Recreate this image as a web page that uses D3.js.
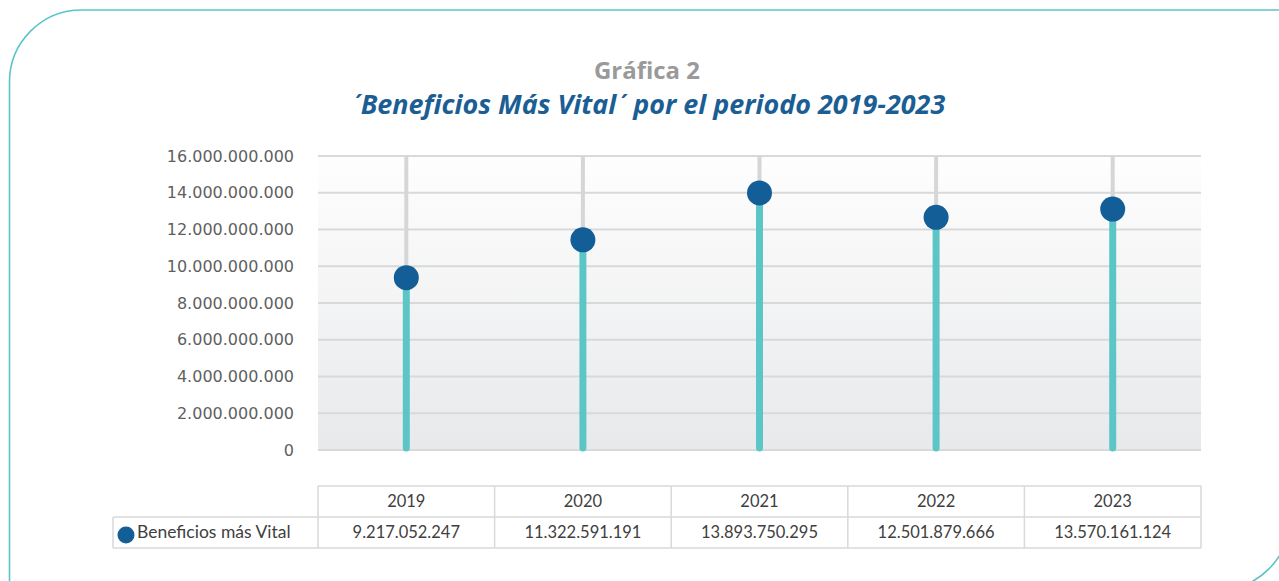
<!DOCTYPE html>
<html><head><meta charset="utf-8">
<script src="https://cdn.jsdelivr.net/npm/d3@7"></script>
<style>
html,body{margin:0;padding:0;background:#fff;}
svg{display:block;}
</style></head>
<body>
<svg id="chart" width="1279" height="581"></svg>
<script>
const categories = ["2019", "2020", "2021", "2022", "2023"];
// marker values as plotted in the picture
const values = [9.38e9, 11.44e9, 13.99e9, 12.66e9, 13.11e9];
// values printed in the data table
const tableLabels = ["9.217.052.247", "11.322.591.191", "13.893.750.295", "12.501.879.666", "13.570.161.124"];
const yTicks = [0, 2e9, 4e9, 6e9, 8e9, 10e9, 12e9, 14e9, 16e9];
const seriesName = "Beneficios más Vital";
const titleLine1 = "Gráfica 2";
const titleLine2Parts = ["´", "Beneficios Más Vital", "´", " por el periodo 2019-2023"];

const svg = d3.select("#chart");
const plot = {left: 318, right: 1201, top: 156, bottom: 450};

// outer frame: rounded top-left and bottom-right corners
svg.append("path")
  .attr("d", "M9.5,600 L9.5,82 A72,72 0 0 1 81.5,10 L1290,10 L1290,518 A72,72 0 0 1 1218,590 L9.5,590")
  .attr("fill", "none").attr("stroke", "#5cc6c7").attr("stroke-width", 1.6);

// titles, sized to the reference widths
function fitText(sel, targetWidth) {
  const fs = +sel.attr("font-size");
  const w = sel.node().getComputedTextLength();
  if (w > 0) sel.attr("font-size", fs * targetWidth / w);
}
const t1 = svg.append("text").attr("x", 647).attr("y", 79).attr("text-anchor", "middle")
  .attr("font-family", "Open Sans, sans-serif").attr("font-weight", 700).attr("font-size", 24)
  .attr("fill", "#9a9a9a").text(titleLine1);
fitText(t1, 106);
const t2 = svg.append("text").attr("x", 648).attr("y", 114).attr("text-anchor", "middle")
  .attr("font-family", "Open Sans, sans-serif").attr("font-weight", 700).attr("font-style", "italic").attr("font-size", 24)
  .attr("fill", "#1b5e94");
t2.selectAll("tspan").data(titleLine2Parts).join("tspan")
  .attr("font-family", d => d === "´" ? "Lato, sans-serif" : null)
  .text(d => d);
fitText(t2, 595);

const x = d3.scaleBand().domain(categories).range([plot.left, plot.right]);
const y = d3.scaleLinear().domain([0, 16e9]).range([plot.bottom, plot.top]);
const cx = c => x(c) + x.bandwidth() / 2;

// background gradient
const defs = svg.append("defs");
const grad = defs.append("linearGradient").attr("id", "bg").attr("x1", 0).attr("y1", 0).attr("x2", 0).attr("y2", 1);
grad.append("stop").attr("offset", "0%").attr("stop-color", "#fefefe");
grad.append("stop").attr("offset", "100%").attr("stop-color", "#e8e9eb");
svg.append("rect").attr("x", plot.left).attr("y", plot.top).attr("width", plot.right - plot.left)
  .attr("height", plot.bottom - plot.top).attr("fill", "url(#bg)");

// horizontal gridlines
svg.append("g").selectAll("line").data(yTicks).join("line")
  .attr("x1", plot.left).attr("x2", plot.right)
  .attr("y1", d => y(d)).attr("y2", d => y(d))
  .attr("stroke", "#d9d9d9").attr("stroke-width", 2);

// y axis labels
const yAxis = d3.axisLeft(y).tickValues(yTicks).tickSize(0).tickPadding(0)
  .tickFormat(d => d3.format(",")(d).replace(/,/g, "."));
const ya = svg.append("g").attr("transform", `translate(${294},0)`).call(yAxis);
ya.select(".domain").remove();
ya.selectAll("text").attr("font-family", "DejaVu Sans, sans-serif").attr("font-size", 16).attr("fill", "#5f5f5f");

// vertical grid lines at category centers
svg.append("g").selectAll("line").data(categories).join("line")
  .attr("x1", cx).attr("x2", cx)
  .attr("y1", plot.top).attr("y2", plot.bottom)
  .attr("stroke", "#d6d6d6").attr("stroke-width", 4);

// stems
svg.append("g").selectAll("line").data(values).join("line")
  .attr("x1", (d, i) => cx(categories[i])).attr("x2", (d, i) => cx(categories[i]))
  .attr("y1", y(0) - 2).attr("y2", d => y(d))
  .attr("stroke", "#5cc6c7").attr("stroke-width", 7).attr("stroke-linecap", "round");

// markers
svg.append("g").selectAll("circle").data(values).join("circle")
  .attr("cx", (d, i) => cx(categories[i]))
  .attr("cy", d => y(d)).attr("r", 12.5).attr("fill", "#135e96");

// data table
const tTop = 486, tMid = 517, tBot = 548, tLeft = 113;
const tg = svg.append("g").attr("stroke", "#d9d9d9").attr("stroke-width", 1.5);
tg.append("line").attr("x1", plot.left).attr("x2", plot.right).attr("y1", tTop).attr("y2", tTop);
tg.append("line").attr("x1", tLeft).attr("x2", plot.right).attr("y1", tMid).attr("y2", tMid);
tg.append("line").attr("x1", tLeft).attr("x2", plot.right).attr("y1", tBot).attr("y2", tBot);
tg.append("line").attr("x1", tLeft).attr("x2", tLeft).attr("y1", tMid).attr("y2", tBot);
const bounds = categories.map(c => x(c)).concat([plot.right]);
tg.selectAll("line.v").data(bounds).join("line").attr("class", "v")
  .attr("x1", d => d).attr("x2", d => d).attr("y1", tTop).attr("y2", tBot);

const tf = "Lato, sans-serif";
svg.append("g").selectAll("text").data(categories).join("text")
  .attr("x", cx).attr("y", tTop + 21).attr("text-anchor", "middle")
  .attr("font-family", tf).attr("font-size", 16.5).attr("fill", "#404040").text(d => d);
svg.append("g").selectAll("text").data(tableLabels).join("text")
  .attr("x", (d, i) => cx(categories[i])).attr("y", tMid + 21).attr("text-anchor", "middle")
  .attr("font-family", tf).attr("font-size", 16.5).attr("fill", "#404040").text(d => d);
svg.append("circle").attr("cx", 126).attr("cy", 535).attr("r", 8.5).attr("fill", "#135e96");
svg.append("text").attr("x", 137).attr("y", tMid + 21).attr("font-family", tf).attr("font-size", 17.5)
  .attr("fill", "#404040").text(seriesName);
</script>
</body></html>
